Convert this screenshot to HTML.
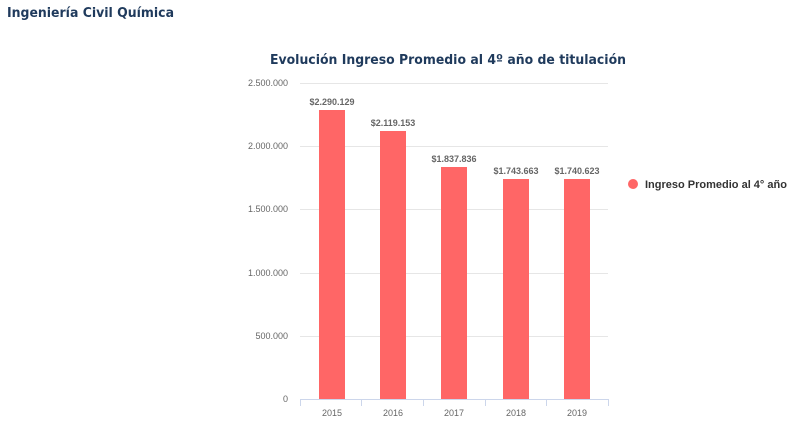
<!DOCTYPE html>
<html><head><meta charset="utf-8"><style>
html,body{margin:0;padding:0;background:#fff;width:800px;height:424px;overflow:hidden}
</style></head><body>
<svg width="800" height="424" xmlns="http://www.w3.org/2000/svg" font-family="Liberation Sans, Arial, sans-serif">
<text x="7" y="17" font-family="DejaVu Sans, Verdana, sans-serif" font-weight="bold" font-size="13" fill="#1f3a5c" textLength="167" lengthAdjust="spacingAndGlyphs">Ingeniería Civil Química</text>
<text x="270" y="64" font-family="DejaVu Sans, Verdana, sans-serif" font-weight="bold" font-size="13" fill="#1f3a5c" textLength="356" lengthAdjust="spacingAndGlyphs">Evolución Ingreso Promedio al 4º año de titulación</text>
<g stroke="#e6e6e6" stroke-width="1">
<line x1="300" x2="608" y1="83.5" y2="83.5"/>
<line x1="300" x2="608" y1="146.5" y2="146.5"/>
<line x1="300" x2="608" y1="209.5" y2="209.5"/>
<line x1="300" x2="608" y1="273.5" y2="273.5"/>
<line x1="300" x2="608" y1="336.5" y2="336.5"/>
</g>
<g font-size="9" fill="#666" text-anchor="end">
<text x="288" y="86">2.500.000</text>
<text x="288" y="149">2.000.000</text>
<text x="288" y="212">1.500.000</text>
<text x="288" y="276">1.000.000</text>
<text x="288" y="339">500.000</text>
<text x="288" y="402">0</text>
</g>
<g fill="#ff6666">
<rect x="319" y="110" width="26" height="289"/>
<rect x="380" y="131" width="26" height="268"/>
<rect x="441" y="167" width="26" height="232"/>
<rect x="503" y="179" width="26" height="220"/>
<rect x="564" y="179" width="26" height="220"/>
</g>
<g stroke="#ccd6eb" stroke-width="1">
<line x1="300" x2="608" y1="399.5" y2="399.5"/>
<line x1="300.5" x2="300.5" y1="399" y2="406"/>
<line x1="361.5" x2="361.5" y1="399" y2="406"/>
<line x1="423.5" x2="423.5" y1="399" y2="406"/>
<line x1="485.5" x2="485.5" y1="399" y2="406"/>
<line x1="546.5" x2="546.5" y1="399" y2="406"/>
<line x1="608.5" x2="608.5" y1="399" y2="406"/>
</g>
<g font-size="9" fill="#666" text-anchor="middle">
<text x="332" y="416">2015</text>
<text x="393" y="416">2016</text>
<text x="454" y="416">2017</text>
<text x="516" y="416">2018</text>
<text x="577" y="416">2019</text>
</g>
<g font-size="9" font-weight="bold" fill="#666" text-anchor="middle">
<text x="332" y="105">$2.290.129</text>
<text x="393" y="126">$2.119.153</text>
<text x="454" y="162">$1.837.836</text>
<text x="516" y="174">$1.743.663</text>
<text x="577" y="174">$1.740.623</text>
</g>
<circle cx="633" cy="184" r="5" fill="#ff6666"/>
<text x="645" y="188" font-size="11" font-weight="bold" fill="#333">Ingreso Promedio al 4° año</text>
</svg>
</body></html>
